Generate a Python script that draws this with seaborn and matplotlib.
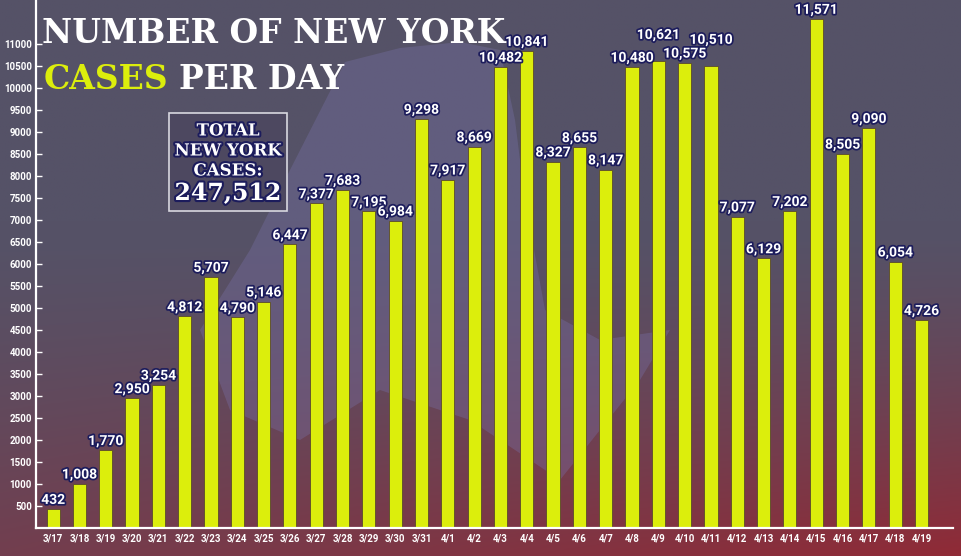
import numpy as np
import pandas as pd
import matplotlib
matplotlib.use('Agg')
import matplotlib.pyplot as plt
import matplotlib.patheffects as pe
from matplotlib.patches import Polygon, Rectangle
import seaborn as sns

# Datos
dias = ['3/17', '3/18', '3/19', '3/20', '3/21', '3/22', '3/23', '3/24', '3/25', '3/26',
        '3/27', '3/28', '3/29', '3/30', '3/31', '4/1', '4/2', '4/3', '4/4', '4/5',
        '4/6', '4/7', '4/8', '4/9', '4/10', '4/11', '4/12', '4/13', '4/14', '4/15',
        '4/16', '4/17', '4/18', '4/19']
casos = [432, 1008, 1770, 2950, 3254, 4812, 5707, 4790, 5146, 6447,
         7377, 7683, 7195, 6984, 9298, 7917, 8669, 10482, 10841, 8327,
         8655, 8147, 10480, 10621, 10575, 10510, 7077, 6129, 7202, 11571,
         8505, 9090, 6054, 4726]
ticks_y = list(range(500, 11001, 500))
total = 247512

data = pd.DataFrame({'dia': dias, 'casos': casos})

W, H = 962, 556
amarillo = '#dcee0c'
azul = '#1c1c5c'

sns.set_style('dark')
plt.rcParams['font.family'] = ['DejaVu Sans']

fig = plt.figure(figsize=(W / 100, H / 100), dpi=100)

# Fondo degradado
bg = fig.add_axes([0, 0, 1, 1])
yy, xx = np.mgrid[0:1:200j, 0:1:300j]
t = np.clip((yy - 0.4) / 0.6, 0, 1) ** 1.4 * (0.5 + 0.5 * xx)
arriba = np.array([0x55, 0x52, 0x67]) / 255
abajo = np.array([0x90, 0x2a, 0x36]) / 255
img = arriba[None, None, :] * (1 - t[..., None]) + abajo[None, None, :] * t[..., None]
bg.imshow(img, extent=[0, W, H, 0], aspect='auto')
forma = [(345, 62), (400, 48), (460, 42), (500, 50), (515, 120), (525, 200), (545, 310),
         (600, 340), (670, 330), (640, 380), (560, 480), (470, 420), (380, 390),
         (300, 440), (230, 410), (200, 330), (250, 250), (290, 170)]
bg.add_patch(Polygon(forma, closed=True, facecolor='#7a72aa', alpha=0.35, edgecolor='none'))
bg.set_xlim(0, W)
bg.set_ylim(H, 0)
bg.axis('off')

ax = fig.add_axes([36 / W, 28 / H, (953 - 36) / W, 528 / H])
ax.patch.set_alpha(0)
sns.barplot(data=data, x='dia', y='casos', color=amarillo, width=0.5,
            edgecolor='#5a4a2a', linewidth=0.6, saturation=1, ax=ax)
ax.set_xlim(-0.65, len(dias) + 0.2)
ax.set_ylim(0, 12000)
ax.set_yticks(ticks_y)
ax.set_yticklabels([str(v) for v in ticks_y])
ax.set_xlabel('')
ax.set_ylabel('')
ax.grid(False)
for s in ['top', 'right']:
    ax.spines[s].set_visible(False)
for s in ['left', 'bottom']:
    ax.spines[s].set_visible(True)
    ax.spines[s].set_color('white')
    ax.spines[s].set_linewidth(1.6)
ax.tick_params(axis='y', direction='in', length=4, width=1, color='white',
               labelcolor='white', labelsize=7, pad=3, left=True)
ax.tick_params(axis='x', length=0, labelcolor='white', labelsize=7, pad=4)
for lab in ax.get_yticklabels() + ax.get_xticklabels():
    lab.set_fontweight('bold')
    lab.set_family(['Roboto', 'DejaVu Sans'])

# etiquetas de valor, algunas subidas para que no se pisen
subir = {'4/9': 12, '4/11': 12}
borde = [pe.withStroke(linewidth=2.5, foreground=azul)]
for i, (d, v) in enumerate(zip(dias, casos)):
    ax.annotate(f'{v:,}', (i, v), xytext=(0, 1.5 + subir.get(d, 0)),
                textcoords='offset points', ha='center', va='bottom', color='white',
                fontsize=10, fontweight='bold', family=['Roboto', 'DejaVu Sans'],
                path_effects=borde)

# Titulo
serif = ['DejaVu Serif Condensed', 'DejaVu Serif']
renderer = fig.canvas.get_renderer()
t1 = fig.text(42 / W, 1 - 43 / H, 'NUMBER OF NEW YORK', color='white', fontsize=34,
              fontweight='bold', family=serif, va='baseline')
ancho = t1.get_window_extent(renderer).width
t1.set_fontsize(34 * 464 / ancho)
fs = t1.get_fontsize()
t2 = fig.text(44 / W, 1 - 89 / H, 'CASES', color=amarillo, fontsize=fs,
              fontweight='bold', family=serif, va='baseline')
x2 = t2.get_window_extent(renderer).x1
fig.text(x2 / W + 10 / W, 1 - 89 / H, 'PER DAY', color='white', fontsize=fs,
         fontweight='bold', family=serif, va='baseline')

# Caja total
bg.add_patch(Rectangle((169, 113), 118, 98, facecolor='#4d4860', edgecolor='#d8d8e0',
                       linewidth=1.2))
borde2 = [pe.withStroke(linewidth=3, foreground=azul)]
for txt, yv in [('TOTAL', 131), ('NEW YORK', 151), ('CASES:', 171)]:
    bg.text(228, yv, txt, ha='center', va='center', color='white', fontsize=12,
            fontweight='bold', family=serif, path_effects=borde2)
bg.text(228, 193, f'{total:,}', ha='center', va='center', color='white', fontsize=17,
        fontweight='bold', family=serif, path_effects=borde2)

fig.savefig('out.png', dpi=100)
